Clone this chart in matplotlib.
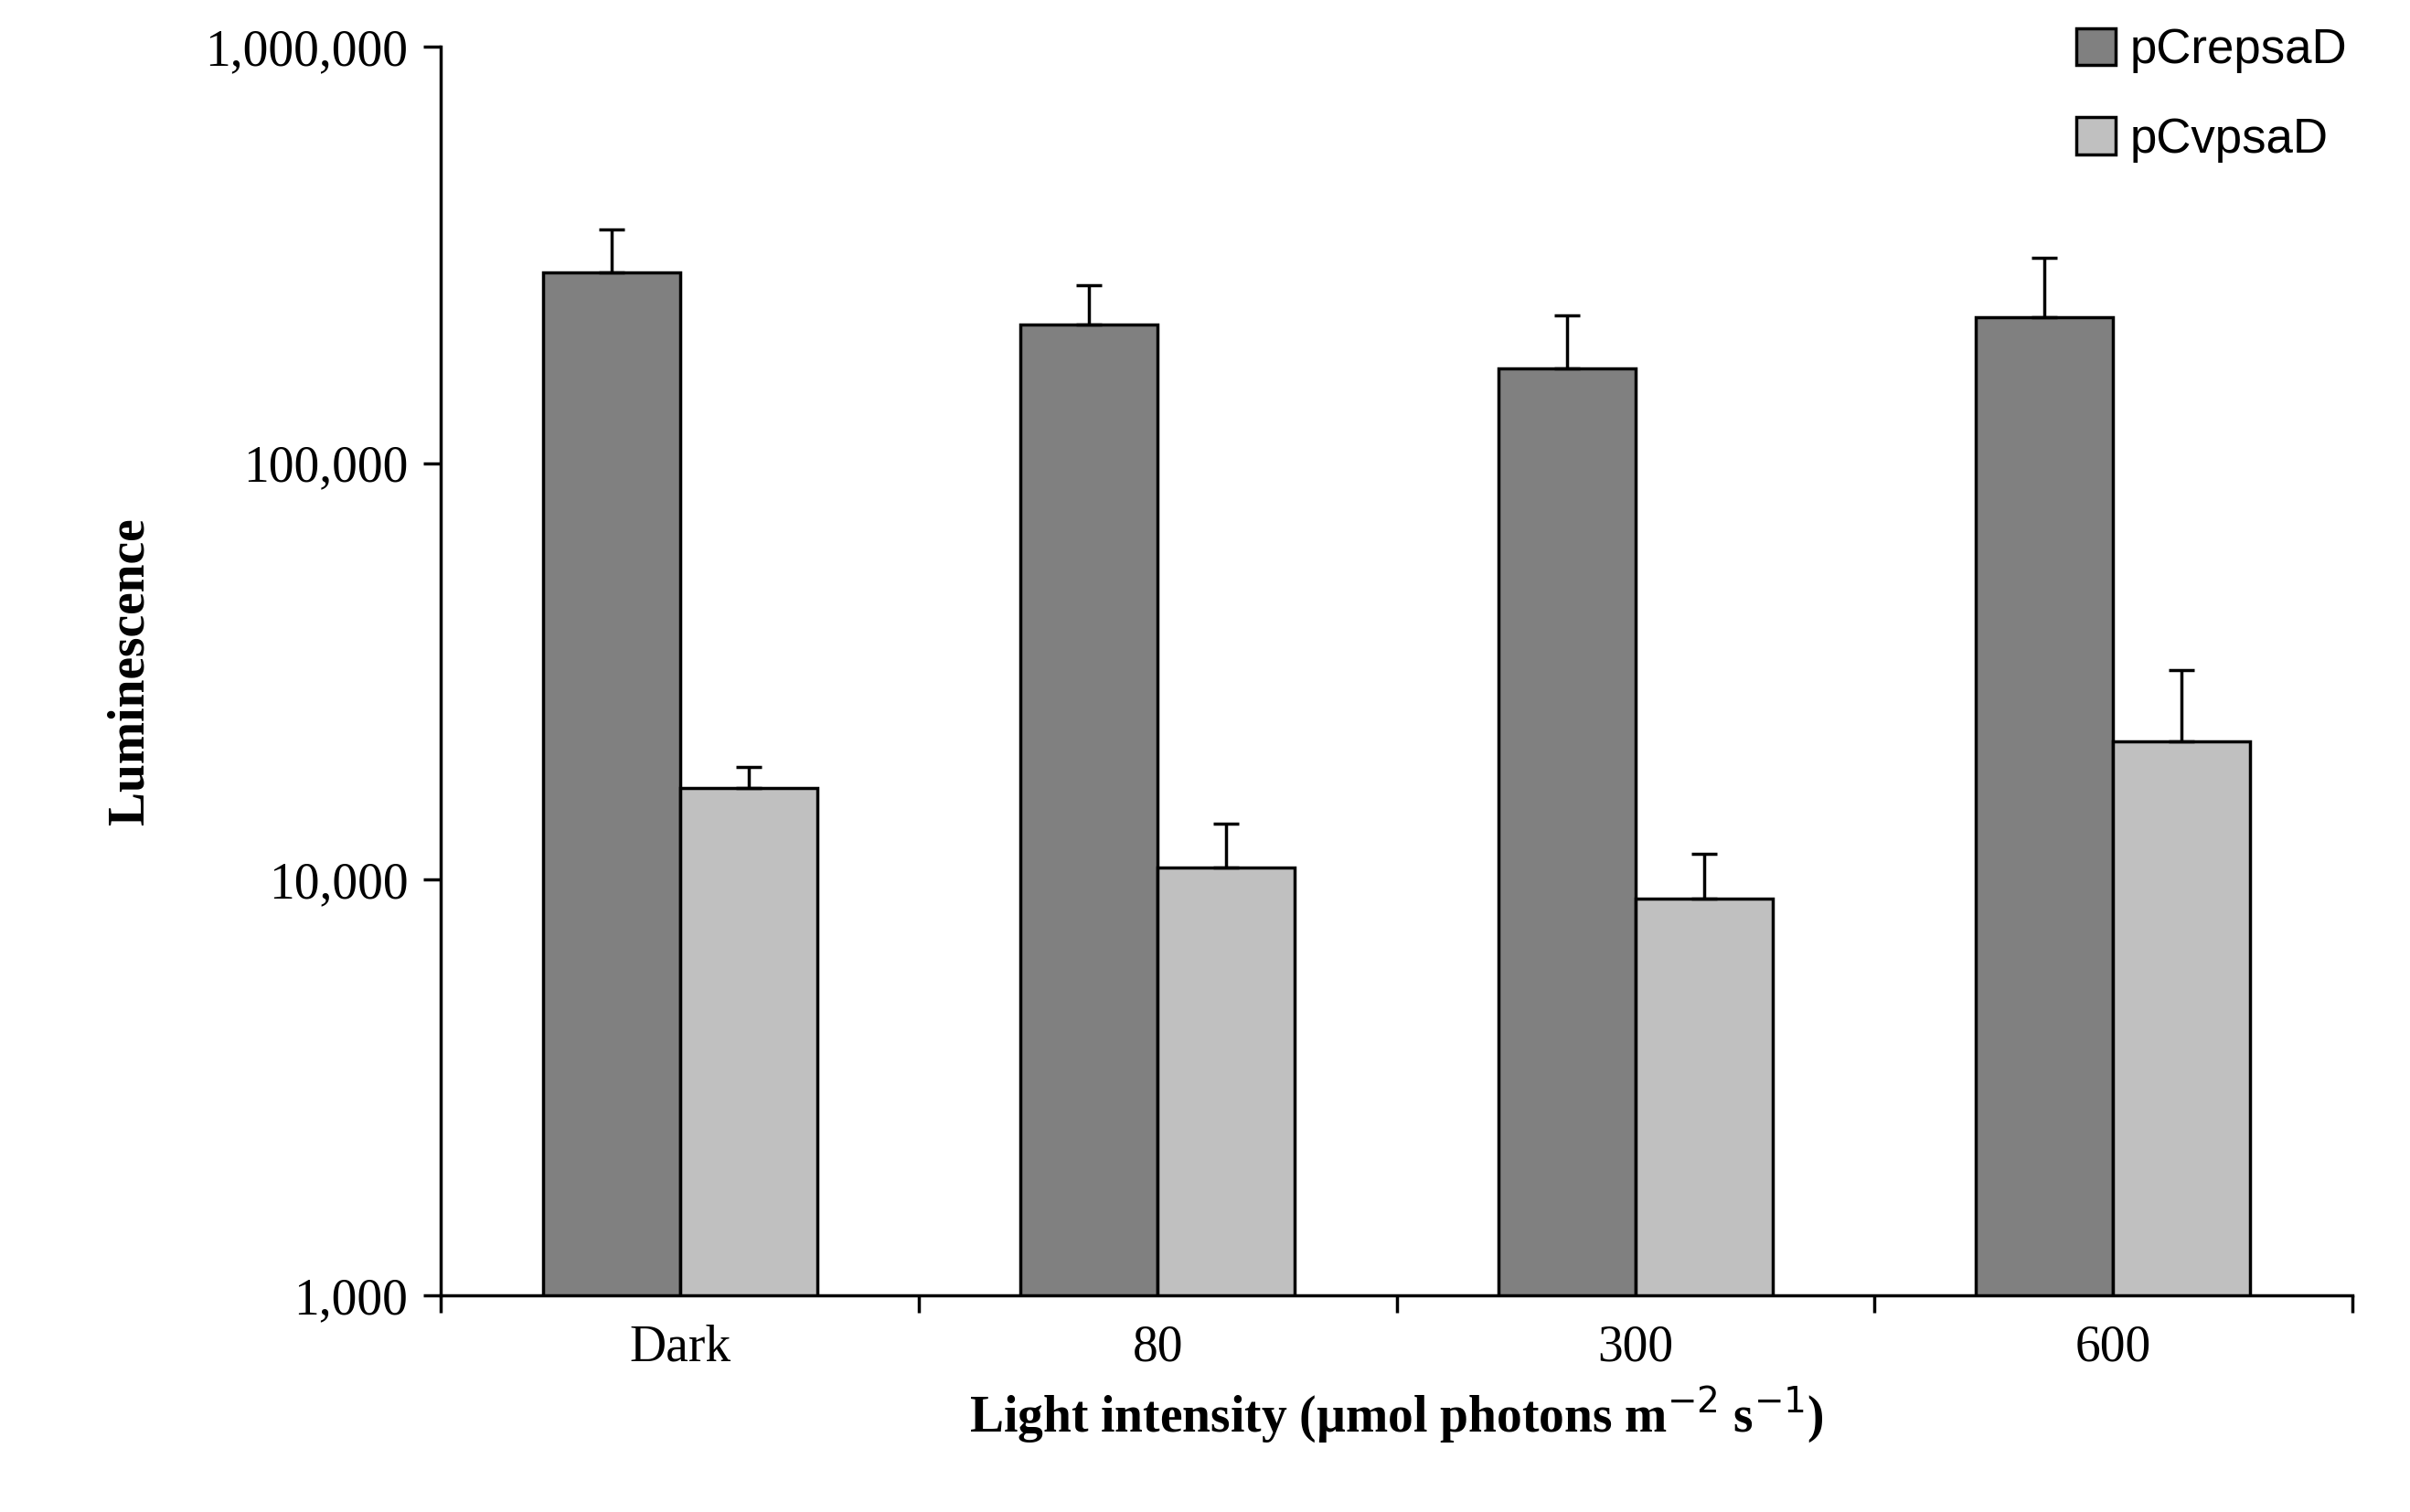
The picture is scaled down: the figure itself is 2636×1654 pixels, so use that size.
import matplotlib.pyplot as plt
import numpy as np

categories = ['Dark', '80', '300', '600']
crepsad = [287000, 215000, 169000, 224000]
crepsad_err = [77000, 53000, 57000, 88000]
cvpsad = [16600, 10700, 9000, 21500]
cvpsad_err = [2000, 2900, 2500, 10300]

fig = plt.figure(figsize=(26.36, 16.54), dpi=100)
ax = fig.add_axes([0.183, 0.143, 0.793, 0.826])

x = np.arange(len(categories))
w = 0.287
ekw = dict(elinewidth=2.5, capsize=10, capthick=2.5, ecolor='black')
ax.bar(x - w / 2, crepsad, w, color='#808080', edgecolor='black', linewidth=2.5,
       yerr=[np.zeros(4), crepsad_err], error_kw=ekw, label='pCrepsaD')
ax.bar(x + w / 2, cvpsad, w, color='#c0c0c0', edgecolor='black', linewidth=2.5,
       yerr=[np.zeros(4), cvpsad_err], error_kw=ekw, label='pCvpsaD')

ax.set_yscale('log')
ax.set_ylim(1000, 1000000)
ax.set_xlim(-0.5, 3.5)
ax.set_yticks([1000, 10000, 100000, 1000000])
ax.set_yticklabels(['1,000', '10,000', '100,000', '1,000,000'])
ax.yaxis.set_minor_locator(plt.NullLocator())
ax.set_xticks(np.arange(-0.5, 4, 1))
ax.set_xticklabels([])
ax.set_xticks(x, minor=True)
ax.set_xticklabels(categories, minor=True)
ax.tick_params(axis='x', which='minor', length=0, pad=22)
ax.tick_params(axis='x', which='major', length=14, width=2.5)
ax.tick_params(axis='y', length=14, width=2.5, pad=12)
for lab in ax.get_xticklabels(minor=True) + ax.get_yticklabels():
    lab.set_fontfamily('Liberation Serif')
    lab.set_fontsize(40)

for s in ['top', 'right']:
    ax.spines[s].set_visible(False)
for s in ['left', 'bottom']:
    ax.spines[s].set_linewidth(2.5)

ax.set_ylabel('Luminescence', fontfamily='Liberation Serif', fontsize=40,
              fontweight='bold', labelpad=40)
ax.set_xlabel('Light intensity (µmol photons m$^{-2}$ s$^{-1}$)',
              fontfamily='Liberation Serif', fontsize=40, fontweight='bold', labelpad=10)
plt.rcParams['mathtext.fontset'] = 'stix'

ax.legend(loc='upper right', bbox_to_anchor=(1.02, 1.05), frameon=False,
          prop={'family': 'Liberation Sans', 'size': 38}, handlelength=0.8,
          handleheight=0.8, labelspacing=0.9, handletextpad=0.3)

plt.savefig('out.png', dpi=100)
